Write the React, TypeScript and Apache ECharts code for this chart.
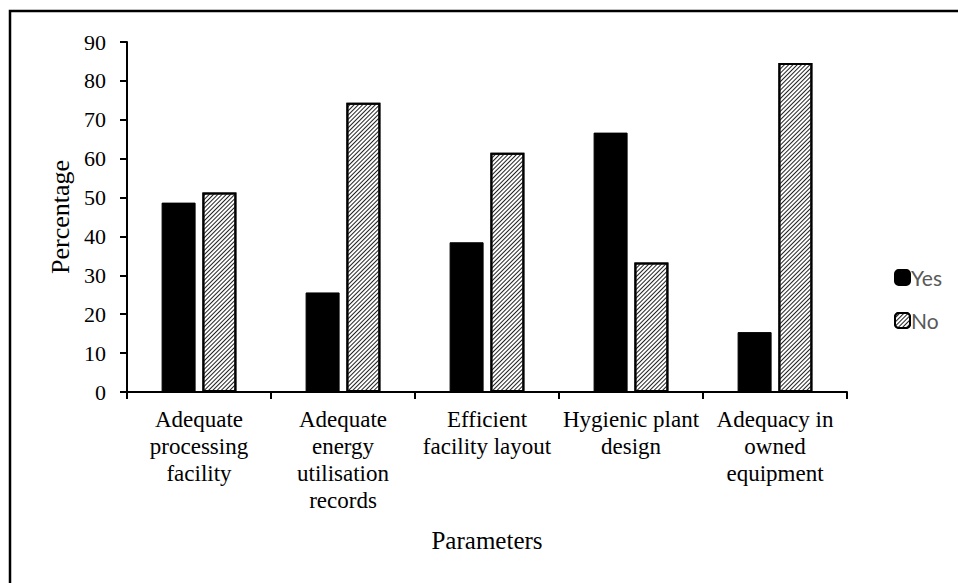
import React, { useEffect, useRef } from "react";
import * as echarts from "echarts";

const categories = [
  "Adequate\nprocessing\nfacility",
  "Adequate\nenergy\nutilisation\nrecords",
  "Efficient\nfacility layout",
  "Hygienic plant\ndesign",
  "Adequacy in\nowned\nequipment",
];
const yesValues = [48.7, 25.6, 38.5, 66.7, 15.4];
const noValues = [51.3, 74.4, 61.5, 33.3, 84.6];
const yTicks = [0, 10, 20, 30, 40, 50, 60, 70, 80, 90];

const serif = "'Liberation Serif', 'Times New Roman', serif";

export default function App() {
  const ref = useRef<HTMLDivElement>(null);
  useEffect(() => {
    document.body.style.margin = "0";
    const chart = echarts.init(ref.current!, null, { renderer: "svg" });
    chart.setOption({
      animation: false,
      backgroundColor: "#fff",
      graphic: [
        {
          type: "rect",
          shape: { x: 10, y: 11, width: 1000, height: 700 },
          style: { fill: "none", stroke: "#000", lineWidth: 2.5 },
          silent: true,
          z: -1,
        },
      ],
      grid: { left: 127, right: 111, top: 42, bottom: 191 },
      legend: {
        orient: "vertical",
        left: 889,
        top: 262,
        itemWidth: 15,
        itemHeight: 15,
        itemGap: 22,
        textStyle: { fontFamily: "Lato, 'Noto Sans', sans-serif", fontSize: 21, color: "#595959", padding: [0, 0, 0, -4] },
        data: ["Yes", "No"],
      },
      xAxis: {
        type: "category",
        data: categories,
        name: "Parameters",
        nameLocation: "middle",
        nameGap: 136,
        nameTextStyle: { fontFamily: serif, fontSize: 25, color: "#000" },
        axisLine: { lineStyle: { color: "#000", width: 2 } },
        axisTick: { show: true, length: 7, lineStyle: { color: "#000", width: 2 } },
        axisLabel: {
          fontFamily: serif,
          fontSize: 23,
          lineHeight: 27,
          color: "#000",
          margin: 14,
          interval: 0,
        },
      },
      yAxis: {
        type: "value",
        min: 0,
        max: 90,
        interval: 10,
        name: "Percentage",
        nameLocation: "middle",
        nameGap: 52,
        nameTextStyle: { fontFamily: serif, fontSize: 26, color: "#000" },
        axisLine: { show: true, lineStyle: { color: "#000", width: 2 } },
        axisTick: { show: true, length: 7, lineStyle: { color: "#000", width: 2 } },
        splitLine: { show: false },
        axisLabel: {
          fontFamily: serif,
          fontSize: 22,
          color: "#000",
          margin: 21,
          formatter: (v: number) => (yTicks.includes(v) ? String(v) : ""),
        },
      },
      series: [
        {
          name: "Yes",
          type: "bar",
          data: yesValues,
          barWidth: 34,
          barGap: "20%",
          itemStyle: { color: "#000", borderColor: "#000", borderWidth: 1 },
        },
        {
          name: "No",
          type: "bar",
          data: noValues,
          barWidth: 34,
          itemStyle: {
            color: "#fff",
            borderColor: "#000",
            borderWidth: 2,
            decal: {
              symbol: "rect",
              symbolSize: 1,
              dashArrayX: [1, 0],
              dashArrayY: [1, 1.8],
              rotation: -Math.PI / 4,
              color: "#222",
              backgroundColor: "#fff",
            },
          },
        },
      ],
    });
    return () => chart.dispose();
  }, []);
  return <div ref={ref} style={{ width: 958, height: 583 }} />;
}
